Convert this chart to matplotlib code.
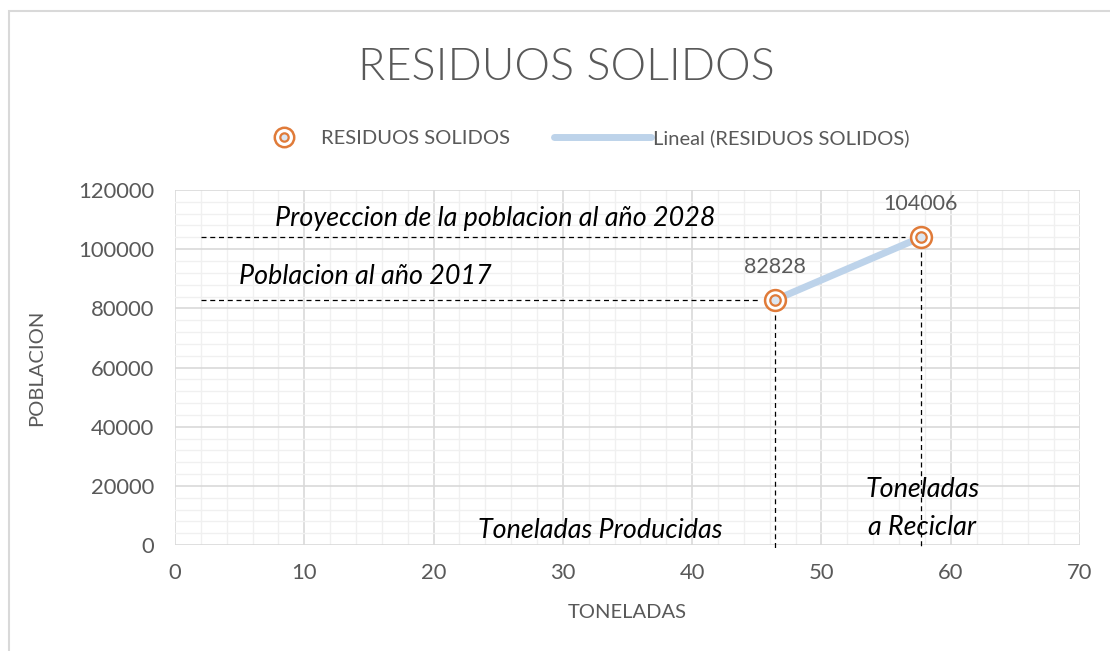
import numpy as np
import matplotlib.pyplot as plt
from matplotlib.lines import Line2D
from matplotlib.patches import Rectangle
from matplotlib.legend_handler import HandlerTuple, HandlerLine2D

plt.rcParams['font.family'] = ['Lato', 'DejaVu Sans']

# data
toneladas = [46.4, 57.7]
poblacion = [82828, 104006]
etiquetas = ['82828', '104006']

x_ticks = [0, 10, 20, 30, 40, 50, 60, 70]
y_ticks = [0, 20000, 40000, 60000, 80000, 100000, 120000]

gris = '#595959'
naranja = '#E07B39'
azul = '#BDD3EA'


class MarcadorDerecha(HandlerLine2D):
    # puts the legend marker near the text instead of in the middle of the handle
    def get_xdata(self, legend, xdescent, ydescent, width, height, fontsize):
        xm = -xdescent + width - 25
        return [xm, xm], [xm]


fig = plt.figure(figsize=(11.1, 6.51), dpi=100)
fig.patches.append(Rectangle((9 / 1110, -0.2), 1.5, 1.2 - 11 / 651, transform=fig.transFigure,
                             fill=False, edgecolor='#D9D9D9', linewidth=1.5))

ax = fig.add_axes([175 / 1110, 106 / 651, 905 / 1110, 355 / 651])

ax.set_xlim(0, 70)
ax.set_ylim(0, 120000)
ax.set_xticks(x_ticks)
ax.set_yticks(y_ticks)
ax.set_xticks(np.arange(0, 71, 2), minor=True)
ax.set_yticks(np.arange(0, 120001, 4000), minor=True)
ax.grid(which='major', color='#D9D9D9', linewidth=1.2)
ax.grid(which='minor', color='#F0F0F0', linewidth=1.0)
ax.set_axisbelow(True)
ax.tick_params(which='both', length=0, labelsize=15.8, colors=gris)
ax.tick_params(axis='y', pad=15)
ax.tick_params(axis='x', pad=13)
for s in ax.spines.values():
    s.set_visible(False)

# trend line
coef = np.polyfit(toneladas, poblacion, 1)
xt = np.array(toneladas)
ax.plot(xt, np.polyval(coef, xt), color=azul, linewidth=5, solid_capstyle='round', zorder=3)

# dashed guides
for xv, yv in zip(toneladas, poblacion):
    ax.plot([2, xv - 1.2], [yv, yv], color='black', linestyle=(0, (4, 3)), linewidth=0.9, zorder=2)
    ax.plot([xv, xv], [yv - 5000, -1500], color='black', linestyle=(0, (4, 3)), linewidth=0.9,
            zorder=2, clip_on=False)

# markers
ax.plot(toneladas, poblacion, linestyle='none', marker='o', markersize=15, mfc='white',
        mec=naranja, mew=1.8, zorder=4)
ax.plot(toneladas, poblacion, linestyle='none', marker='o', markersize=7.5, mfc='#DCE6F1',
        mec=naranja, mew=1.6, zorder=5)

for xv, yv, lab in zip(toneladas, poblacion, etiquetas):
    ax.annotate(lab, (xv, yv), xytext=(0, 24), textcoords='offset points', ha='center',
                va='center', fontsize=15.5, color=gris)

# annotations
ital = dict(fontsize=19.4, style='italic', color='black', ha='center', va='center')
ax.text(24.8, 110500, 'Proyeccion de la poblacion al año 2028', **ital)
ax.text(14.7, 90700, 'Poblacion al año 2017', **ital)
ax.text(32.9, 5000, 'Toneladas Producidas', **ital)
ax.text(57.8, 12300, 'Toneladas\na Reciclar', linespacing=1.62, **ital)

ax.set_xlabel('TONELADAS', fontsize=14.5, color=gris, labelpad=15)
ax.set_ylabel('POBLACION', fontsize=14.5, color=gris, labelpad=24)

fig.text(0.5 + 11 / 1110, 1 - 67 / 651, 'RESIDUOS SOLIDOS', fontsize=32.4, color=gris,
         ha='center', va='center', weight=300)

h1 = Line2D([], [], linestyle='none', marker='o', markersize=14, mfc='white', mec=naranja, mew=1.8)
h2 = Line2D([], [], linestyle='none', marker='o', markersize=6, mfc='#DCE6F1', mec=naranja, mew=1.6)
h3 = Line2D([], [], color=azul, linewidth=5, solid_capstyle='round')
fig.legend([(h1, h2), h3], ['RESIDUOS SOLIDOS', 'Lineal (RESIDUOS SOLIDOS)'],
           handler_map={h1: MarcadorDerecha(), h2: MarcadorDerecha(),
                        tuple: HandlerTuple(ndivide=1)},
           loc='center', bbox_to_anchor=(0.5095, 1 - 138 / 651), ncol=2, frameon=False,
           fontsize=14.5, labelcolor=gris, handlelength=4.8, handletextpad=0.1,
           columnspacing=2.2)

fig.savefig('out.png', dpi=100)
